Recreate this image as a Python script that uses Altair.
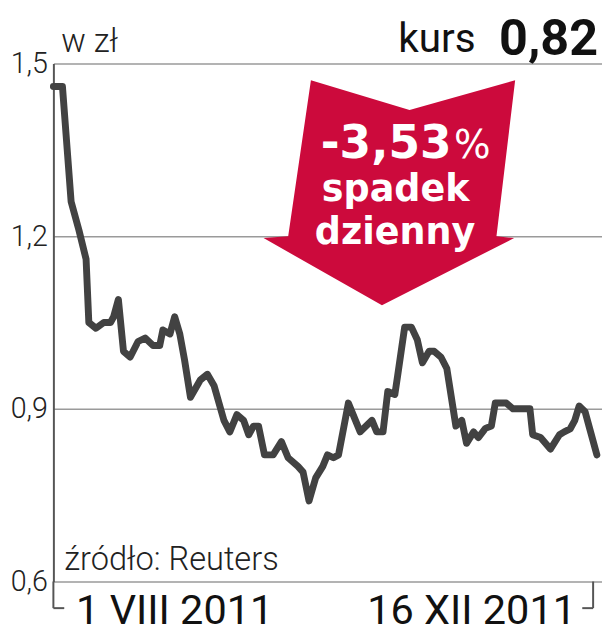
import altair as alt
import pandas as pd

# day offset from 1 VIII 2011 and share price (zł)
dzien = [0, 2.3, 4.5, 6.5, 8.3, 9.0, 10.8, 12.8, 14.5, 15.3, 16.5, 17.8, 19.5, 21.5,
         23.3, 25.3, 27.0, 27.8, 29.6, 30.8, 32.1, 33.3, 34.8, 37.3, 39.1, 40.8, 43.3,
         44.8, 46.6, 48.3, 49.6, 50.8, 52.1, 53.6, 55.8, 57.9, 59.6, 62.1, 63.4, 64.9,
         66.6, 68.4, 69.6, 71.1, 72.4, 74.9, 77.9, 80.9, 82.1, 83.7, 84.9, 86.7, 87.4,
         89.2, 90.9, 92.4, 93.7, 95.4, 96.7, 98.4, 99.9, 102.2, 103.7, 104.9, 106.7,
         107.9, 109.7, 111.2, 112.2, 115.0, 116.7, 121.0, 121.7, 123.7, 126.2, 128.5,
         129.7, 131.2, 132.4, 133.5, 135.0, 136.2, 138.0]
kurs = [1.46, 1.46, 1.26, 1.21, 1.16, 1.05, 1.04, 1.05, 1.05, 1.06, 1.09, 1.00, 0.99,
        1.017, 1.023, 1.01, 1.01, 1.037, 1.03, 1.06, 1.03, 0.985, 0.92, 0.95, 0.96,
        0.94, 0.88, 0.86, 0.89, 0.88, 0.855, 0.87, 0.87, 0.82, 0.82, 0.843, 0.815,
        0.80, 0.79, 0.74, 0.78, 0.80, 0.82, 0.815, 0.82, 0.91, 0.86, 0.88, 0.86, 0.86,
        0.93, 0.925, 0.957, 1.042, 1.042, 1.02, 0.98, 1.00, 1.00, 0.99, 0.97, 0.87,
        0.88, 0.84, 0.86, 0.85, 0.866, 0.87, 0.91, 0.91, 0.90, 0.90, 0.855, 0.85, 0.83,
        0.855, 0.86, 0.865, 0.88, 0.905, 0.895, 0.865, 0.82]

y_ticks = [0.6, 0.9, 1.2, 1.5]
x_domain = [0, 139.3]
y_domain = [0.6, 1.5]

jednostka = "w zł"
kurs_label = "kurs"
kurs_value = "0,82"
zmiana = "-3,53"
zmiana_pct = "%"
zmiana_l1 = "spadek"
zmiana_l2 = "dzienny"
zrodlo = "źródło: Reuters"
data_start = "1 VIII 2011"
data_end = "16 XII 2011"

W, H = 556, 525
RED = "#cc0a3c"
LINE = "#424242"
AX = "#555555"

df = pd.DataFrame({"dzien": dzien, "kurs": kurs})
one = pd.DataFrame({"a": [0]})

x_enc = alt.X("dzien:Q", scale=alt.Scale(domain=x_domain, nice=False, zero=False), axis=None)
y_enc = alt.Y(
    "kurs:Q",
    scale=alt.Scale(domain=y_domain, nice=False, zero=False),
    axis=alt.Axis(
        values=y_ticks,
        title=None,
        labelExpr="replace(format(datum.value, '.1f'), '.', ',')",
        labelFont="Roboto",
        labelFontSize=29,
        labelFontWeight=300,
        labelColor="#222222",
        labelPadding=6,
        labelFlush=False,
        labelOverlap=False,
        ticks=False,
        domainColor=AX,
        domainWidth=2,
        grid=True,
        gridColor="#9a9a9a",
        gridWidth=1.5,
    ),
)

line = alt.Chart(df).mark_line(
    color=LINE, strokeWidth=7, strokeJoin="round", strokeCap="round"
).encode(x=x_enc, y=y_enc)

ARROW = ("M -0.625 -0.883 L 0.156 -0.648 L 0.992 -0.883 L 0.844 0.352 L 0.984 0.367 "
         "L -0.0625 0.898 L -1 0.367 L -0.805 0.352 Z")
arrow = alt.Chart(one).mark_point(
    shape=ARROW, size=65536, filled=True, color=RED, opacity=1, strokeWidth=0
).encode(x=alt.value(341), y=alt.value(130))


def txt(text, x, y, size, weight="normal", color="#1a1a1a", align="left", font="Roboto"):
    return alt.Chart(one).mark_text(
        align=align, baseline="alphabetic", font=font, fontSize=size,
        fontWeight=weight, color=color
    ).encode(x=alt.value(x), y=alt.value(y), text=alt.value(text))


texts = [
    txt(jednostka, 8, -12, 33, 300, "#222222"),
    txt(kurs_label, 428, -12, 41, "normal", "#111111", "right"),
    txt(kurs_value, 552, -9, 51, "bold", "#111111", "right"),
    txt(zmiana, 271, 96, 46, "bold", "white", font="DejaVu Sans"),
    txt(zmiana_pct, 406, 96, 39, "normal", "white", font="DejaVu Sans"),
    txt(zmiana_l1, 272, 139, 37, "bold", "white", font="DejaVu Sans"),
    txt(zmiana_l2, 265, 183, 37, "bold", "white", font="DejaVu Sans"),
    txt(zrodlo, 11, 513, 33, 300, "#222222"),
    txt(data_start, 23, 568, 42, "normal", "#111111"),
    txt(data_end, 318, 568, 42, "normal", "#111111"),
]


def rule(x1, x2, y1, y2):
    return alt.Chart(one).mark_rule(color=AX, strokeWidth=2).encode(
        x=alt.value(x1), x2=alt.value(x2), y=alt.value(y1), y2=alt.value(y2)
    )


brackets = [
    rule(0, 0, 525, 552),
    rule(0, 11, 552, 552),
    rule(547, 547, 525, 552),
    rule(536, 547, 552, 552),
]

chart = alt.layer(line, arrow, *texts, *brackets).properties(
    width=W,
    height=H,
    autosize=alt.AutoSizeParams(type="none"),
    padding={"left": 46, "top": 52, "right": 0, "bottom": 50},
    background="white",
).configure_view(stroke=None)

chart.save("out.html", embed_options={"renderer": "svg", "actions": False})
